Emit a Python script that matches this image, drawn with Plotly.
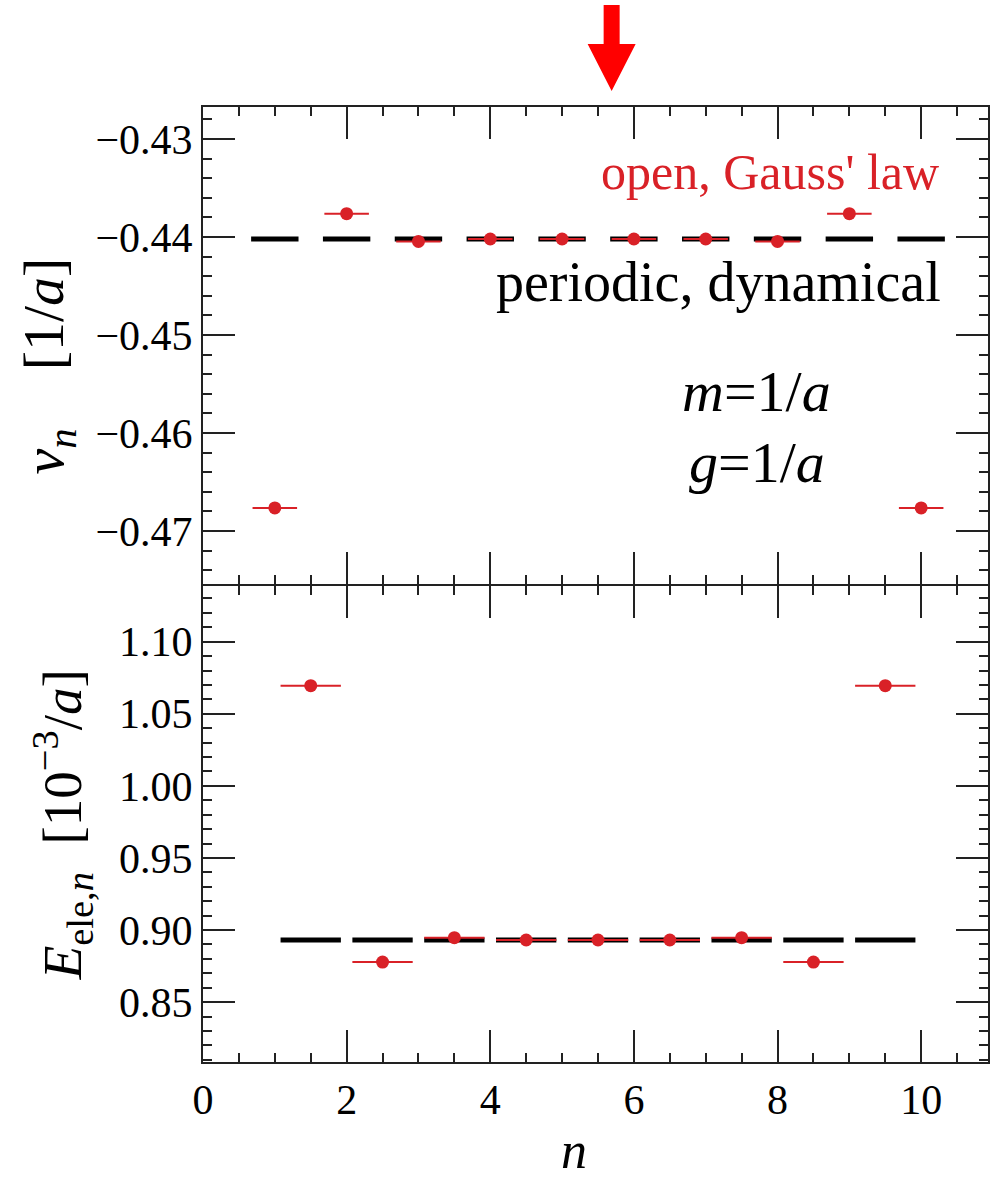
import plotly.graph_objects as go

# ---- data -------------------------------------------------------------
# top panel: chiral condensate per site
sites = [1, 2, 3, 4, 5, 6, 7, 8, 9, 10]
nu_open = [-0.46765, -0.43762, -0.44045, -0.4402, -0.4402,
           -0.4402, -0.4402, -0.44045, -0.43762, -0.46765]
nu_periodic = [-0.4402] * 10
site_halfwidth_open = 0.31
site_halfwidth_periodic = 0.33

# bottom panel: electric energy per link
links = [1.5, 2.5, 3.5, 4.5, 5.5, 6.5, 7.5, 8.5, 9.5]
e_open = [1.0695, 0.8778, 0.8947, 0.8931, 0.8931, 0.8931, 0.8947, 0.8778, 1.0695]
e_periodic = [0.8931] * 9
link_halfwidth = 0.42

arrow_x = 5.69

RED = "#d92127"
FONT = "Liberation Serif, Times New Roman, Times, serif"
AXC = "#222222"

fig = go.Figure()

# periodic reference (thick black segments)
fig.add_trace(go.Scatter(
    x=sites, y=nu_periodic, mode="markers",
    marker=dict(size=1, color="rgba(0,0,0,0)"),
    error_x=dict(type="constant", value=site_halfwidth_periodic,
                 color="black", thickness=5, width=0),
    xaxis="x", yaxis="y", showlegend=False, hoverinfo="skip"))
fig.add_trace(go.Scatter(
    x=links, y=e_periodic, mode="markers",
    marker=dict(size=1, color="rgba(0,0,0,0)"),
    error_x=dict(type="constant", value=link_halfwidth,
                 color="black", thickness=5, width=0),
    xaxis="x2", yaxis="y2", showlegend=False, hoverinfo="skip"))

# open boundary results (red points with horizontal bars)
fig.add_trace(go.Scatter(
    x=sites, y=nu_open, mode="markers",
    marker=dict(size=13, color=RED),
    error_x=dict(type="constant", value=site_halfwidth_open,
                 color=RED, thickness=2, width=0),
    xaxis="x", yaxis="y", showlegend=False))
fig.add_trace(go.Scatter(
    x=links, y=e_open, mode="markers",
    marker=dict(size=13, color=RED),
    error_x=dict(type="constant", value=link_halfwidth,
                 color=RED, thickness=2, width=0),
    xaxis="x2", yaxis="y2", showlegend=False))

W, H = 990, 1186
ML, MT, MB = 203, 107, 124
PH = H - MT - MB
split = (1062 - 584) / PH
gap = 2 / PH
xmax = (W - ML) / 72.0

common_x = dict(range=[0, xmax], dtick=2, tick0=0, ticks="inside", ticklen=32,
                tickwidth=2, tickcolor=AXC, showline=True, linewidth=2,
                linecolor=AXC, mirror="ticks", showgrid=False, zeroline=False,
                minor=dict(dtick=0.5, tick0=0, ticks="inside", ticklen=9,
                           tickwidth=2, tickcolor=AXC, showgrid=False),
                tickfont=dict(family=FONT, size=42, color="black"))
common_y = dict(ticks="inside", ticklen=32, tickwidth=2, tickcolor=AXC,
                showline=True, linewidth=2, linecolor=AXC, mirror="ticks",
                showgrid=False, zeroline=False, tickformat=".2f",
                tickfont=dict(family=FONT, size=42, color="black"))

fig.update_layout(
    width=W, height=H,
    margin=dict(l=ML, r=0, t=MT, b=MB),
    paper_bgcolor="white", plot_bgcolor="white",
    font=dict(family=FONT, color="black"),
    xaxis=dict(common_x, anchor="y", showticklabels=False),
    yaxis=dict(common_y, domain=[split, 1], anchor="x",
               range=[-0.47541, -0.42673], dtick=0.01, tick0=-0.43,
               minor=dict(dtick=0.002, tick0=-0.43, ticks="inside", ticklen=9,
                          tickwidth=2, tickcolor=AXC, showgrid=False)),
    xaxis2=dict(common_x, anchor="y2"),
    yaxis2=dict(common_y, domain=[0, split - gap], anchor="x2",
                range=[0.8085, 1.1386], dtick=0.05, tick0=0.85,
                minor=dict(dtick=0.01, tick0=0.85, ticks="inside", ticklen=9,
                           tickwidth=2, tickcolor=AXC, showgrid=False)),
)

ann = []
ann.append(dict(text="open, Gauss' law", x=10.28, y=-0.43337, xref="x", yref="y",
                xanchor="right", yanchor="middle", showarrow=False,
                font=dict(family=FONT, size=50, color=RED)))
ann.append(dict(text="periodic, dynamical", x=10.31, y=-0.44455, xref="x", yref="y",
                xanchor="right", yanchor="middle", showarrow=False,
                font=dict(family=FONT, size=56, color="black")))
ann.append(dict(text="<i>m</i>=1/<i>a</i>", x=7.71, y=-0.45575, xref="x", yref="y",
                xanchor="center", yanchor="middle", showarrow=False,
                font=dict(family=FONT, size=58, color="black")))
ann.append(dict(text="<i>g</i>=1/<i>a</i>", x=7.71, y=-0.46306, xref="x", yref="y",
                xanchor="center", yanchor="middle", showarrow=False,
                font=dict(family=FONT, size=58, color="black")))
# axis titles
ann.append(dict(text="<i>ν<sub>n</sub></i>\u00a0\u00a0\u00a0\u00a0[1/<i>a</i>]",
                x=(47 - ML) / (W - ML), y=1 - (366 - MT) / PH,
                xref="paper", yref="paper", textangle=-90, showarrow=False,
                xanchor="center", yanchor="middle",
                font=dict(family=FONT, size=58, color="black")))
ann.append(dict(text="<i>E</i><sub>ele,<i>n</i></sub>\u00a0\u00a0[10<sup>−3</sup>/<i>a</i>]",
                x=(62 - ML) / (W - ML), y=1 - (825 - MT) / PH,
                xref="paper", yref="paper", textangle=-90, showarrow=False,
                xanchor="center", yanchor="middle",
                font=dict(family=FONT, size=55, color="black")))
ann.append(dict(text="<i>n</i>", x=(575 - ML) / (W - ML), y=-(1150 - 1062) / PH,
                xref="paper", yref="paper", showarrow=False,
                xanchor="center", yanchor="middle",
                font=dict(family=FONT, size=52, color="black")))
fig.update_layout(annotations=ann)

# block arrow above the top panel, anchored at arrow_x
fig.add_shape(type="path", xref="x", yref="paper",
              xsizemode="pixel", xanchor=arrow_x,
              ysizemode="pixel", yanchor=1,
              path="M 0 16 L -24 63 L -8 63 L -8 102 L 8 102 L 8 63 L 24 63 Z",
              fillcolor="#ff0000", line=dict(width=0), layer="above")

fig.write_html("out.html")
